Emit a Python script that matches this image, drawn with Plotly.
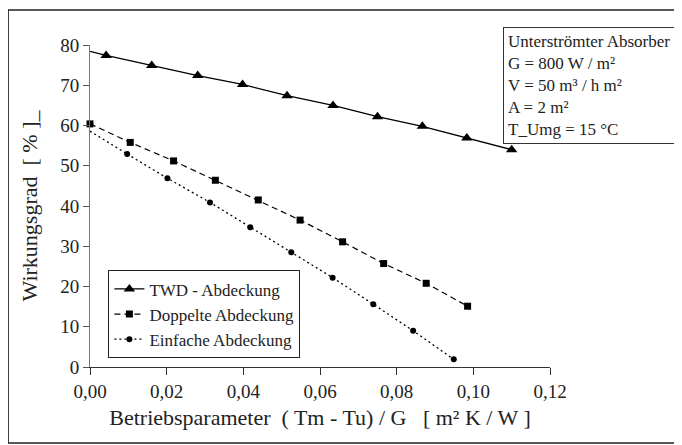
import plotly.graph_objects as go

# Data (first point of TWD and Einfache is the line start at x = 0, no marker)
twd_x = [0.0, 0.0042, 0.0161, 0.0281, 0.0398, 0.0514, 0.0634, 0.0750, 0.0867, 0.0983, 0.1100]
twd_y = [78.4, 77.4, 74.9, 72.4, 70.2, 67.4, 65.0, 62.2, 59.8, 56.9, 54.0]

dop_x = [0.0, 0.0105, 0.0218, 0.0327, 0.0439, 0.0548, 0.0659, 0.0766, 0.0877, 0.0985]
dop_y = [60.4, 55.8, 51.2, 46.4, 41.5, 36.5, 31.1, 25.7, 20.8, 15.1]

ein_x = [0.0, 0.0097, 0.0202, 0.0313, 0.0418, 0.0525, 0.0633, 0.0739, 0.0843, 0.0949]
ein_y = [58.6, 52.9, 46.9, 40.9, 34.7, 28.5, 22.2, 15.6, 9.0, 1.9]

x_ticks = [0.0, 0.02, 0.04, 0.06, 0.08, 0.10, 0.12]
x_tick_labels = ["0,00", "0,02", "0,04", "0,06", "0,08", "0,10", "0,12"]
y_ticks = [0, 10, 20, 30, 40, 50, 60, 70, 80]

names = ["TWD - Abdeckung", "Doppelte Abdeckung", "Einfache Abdeckung"]
info_lines = ["Unterströmter Absorber", "G = 800 W / m²", "V = 50 m³ / h m²", "A = 2 m²", "T_Umg = 15 °C"]

FONT = "Liberation Serif, Times New Roman, serif"

twd_line = dict(color="black", width=1.3, dash="solid")
dop_line = dict(color="black", width=1.2, dash="6px,4px")
ein_line = dict(color="black", width=1.3, dash="2px,3px")

fig = go.Figure()
# line starts at x = 0 (no marker there)
fig.add_trace(go.Scatter(x=twd_x[:2], y=twd_y[:2], mode="lines", line=twd_line,
                         showlegend=False, hoverinfo="skip"))
fig.add_trace(go.Scatter(x=ein_x[:2], y=ein_y[:2], mode="lines", line=ein_line,
                         showlegend=False, hoverinfo="skip"))

fig.add_trace(go.Scatter(
    x=twd_x[1:], y=twd_y[1:], name=names[0], mode="lines+markers", line=twd_line,
    marker=dict(symbol="triangle-up", size=10, color="black"), cliponaxis=False))
fig.add_trace(go.Scatter(
    x=dop_x, y=dop_y, name=names[1], mode="lines+markers", line=dop_line,
    marker=dict(symbol="square", size=7, color="black"), cliponaxis=False))
fig.add_trace(go.Scatter(
    x=ein_x[1:], y=ein_y[1:], name=names[2], mode="lines+markers", line=ein_line,
    marker=dict(symbol="circle", size=6, color="black"), cliponaxis=False))

fig.update_layout(
    width=682, height=445,
    margin=dict(l=82, r=140, t=37, b=86),
    paper_bgcolor="white", plot_bgcolor="white",
    font=dict(family=FONT, color="black", size=16),
    showlegend=True,
    legend=dict(x=0.04, y=0.30, xanchor="left", yanchor="top",
                bordercolor="#222", borderwidth=1, bgcolor="white",
                font=dict(family=FONT, size=17, color="#222"),
                tracegroupgap=2, itemwidth=30),
    xaxis=dict(range=[0, 0.12], tickvals=x_ticks, ticktext=x_tick_labels,
               showgrid=False, zeroline=False, showline=True, linecolor="#333", linewidth=1,
               ticks="outside", ticklen=7, tickcolor="#333",
               tickfont=dict(family=FONT, size=19, color="#222"),
               title=dict(text="Betriebsparameter\u00a0\u00a0( Tm - Tu) / G\u00a0\u00a0\u00a0[ m² K / W ]",
                          font=dict(family=FONT, size=22, color="#222"), standoff=8)),
    yaxis=dict(range=[0, 80], tickvals=y_ticks,
               showgrid=False, zeroline=False, showline=True, linecolor="#777", linewidth=1,
               ticks="outside", ticklen=6, tickcolor="#555",
               tickfont=dict(family=FONT, size=19, color="#222"),
               title=dict(text="Wirkungsgrad\u00a0\u00a0[ % ]_",
                          font=dict(family=FONT, size=22, color="#222"), standoff=16)),
)

fig.add_annotation(
    xref="paper", yref="paper", x=0.898, y=1.056, xanchor="left", yanchor="top",
    text="<br>".join(info_lines), align="left", showarrow=False,
    font=dict(family=FONT, size=17, color="#222"),
    bordercolor="#333", borderwidth=1, borderpad=4, bgcolor="white")

# outer frame around the whole figure
fig.add_shape(type="rect", xref="paper", yref="paper",
              x0=-0.178, x1=1.283, y0=-0.236, y1=1.109,
              line=dict(color="#222", width=1.5))

fig.write_html("out.html")
